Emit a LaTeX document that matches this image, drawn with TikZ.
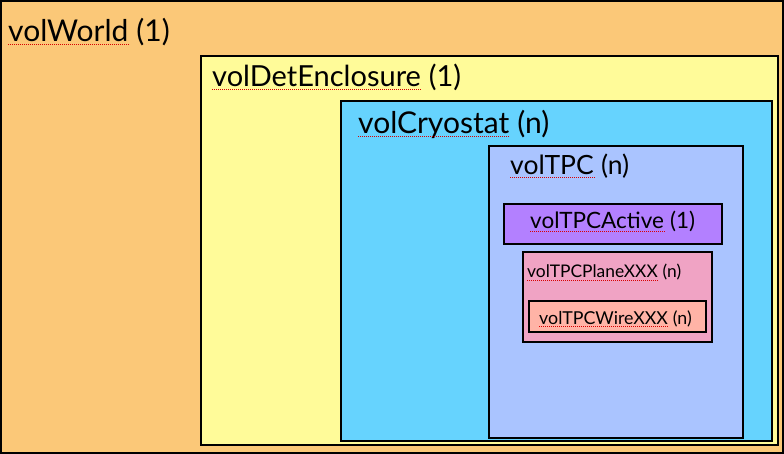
\documentclass[tikz,border=0pt]{standalone}
\usepackage{fontspec}
\setmainfont{Lato}
\usetikzlibrary{positioning}
\definecolor{worldcol}{HTML}{FBC878}
\definecolor{enclcol}{HTML}{FFFB99}
\definecolor{cryocol}{HTML}{66D3FE}
\definecolor{tpccol}{HTML}{AAC4FF}
\definecolor{actcol}{HTML}{B380FF}
\definecolor{planecol}{HTML}{F0A3C4}
\definecolor{wirecol}{HTML}{FFB3A6}
\tikzset{
  volbox/.style={draw=black,line width=2pt},
  vname/.style={inner sep=0pt,anchor=base west},
  squig/.style={red!85!black,line width=0.9pt,dash pattern=on 0.9pt off 1.1pt}
}

\begin{document}
\begin{tikzpicture}[x=1pt,y=-1pt]

  \useasboundingbox (0,0) rectangle (784,454);

  % nested volumes, outside in
  \draw[volbox,fill=worldcol] (1,1) rectangle (783,453);     % world
  \draw[volbox,fill=enclcol]  (201,56) rectangle (778,445);  % enclosure
  \draw[volbox,fill=cryocol]  (341,101) rectangle (772,441); % cryostat
  \draw[volbox,fill=tpccol]   (489,146) rectangle (743,438); % tpc
  \draw[volbox,fill=actcol]   (504,204) rectangle (722,244); % active
  \draw[volbox,fill=planecol] (523,252) rectangle (712,342); % plane
  \draw[volbox,fill=wirecol]  (529,301) rectangle (706,332); % wire

  % labels: name, count, spell-check squiggle
  \foreach \id/\txt/\cnt/\px/\py/\fs in {
      World/volWorld/1/8/42/30,
      Encl/volDetEnclosure/1/212/87/29,
      Cryo/volCryostat/n/358/134/30,
      TPC/volTPC/n/510/175/26.5,
      Act/volTPCActive/1/530/229/22.5,
      Plane/volTPCPlaneXXX/n/527/278/17.4,
      Wire/volTPCWireXXX/n/539/324/17.8}{
    \node[vname,font=\fontsize{\fs}{\fs}\selectfont] (t\id) at (\px,\py) {\txt};
    \node[vname,font=\fontsize{\fs}{\fs}\selectfont] (c\id) at (t\id.base east) {\ (\cnt)};
    \draw[squig] ([yshift=-2pt]t\id.base west) -- ([yshift=-2pt]t\id.base east);
  }

\end{tikzpicture}
\end{document}
